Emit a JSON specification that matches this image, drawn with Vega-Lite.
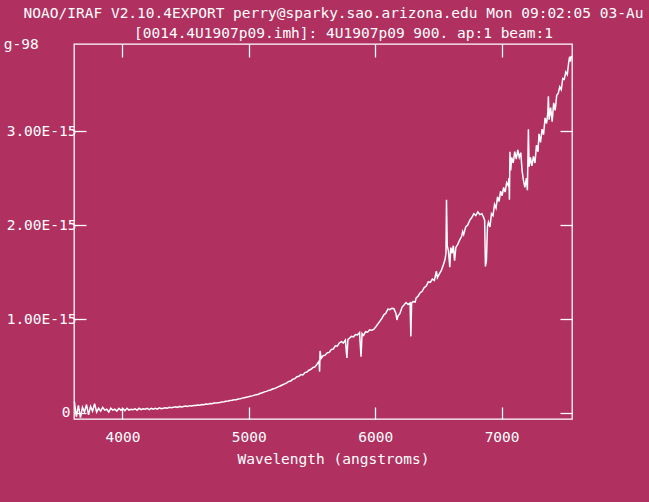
{
  "$schema": "https://vega.github.io/schema/vega-lite/v6.json",
  "width": 498,
  "height": 375,
  "autosize": {"type": "none"},
  "padding": {"left": 74, "top": 44, "right": 77, "bottom": 83},
  "background": "#B03060",
  "title": {
    "text": "NOAO/IRAF V2.10.4EXPORT perry@sparky.sao.arizona.edu Mon 09:02:05 03-Au",
    "anchor": "start",
    "frame": "group",
    "dx": -50.4,
    "font": "DejaVu Sans Mono",
    "fontSize": 14.5,
    "fontWeight": "normal",
    "color": "white"
  },
  "config": {
    "view": {"stroke": "white", "strokeWidth": 1.3},
    "axis": {
      "domain": false,
      "grid": false,
      "tickColor": "white",
      "tickWidth": 1.3,
      "labelColor": "white",
      "labelFont": "DejaVu Sans Mono",
      "labelFontSize": 14.5,
      "titleColor": "white",
      "titleFont": "DejaVu Sans Mono",
      "titleFontSize": 14.5,
      "titleFontWeight": "normal"
    }
  },
  "data": {
    "values": [
      {"wavelength": 3620, "flux": 0.12}, {"wavelength": 3636, "flux": -0.04}, {"wavelength": 3652, "flux": 0.08}, {"wavelength": 3668, "flux": -0.05}, {"wavelength": 3684, "flux": 0.06},
      {"wavelength": 3700, "flux": 0.01}, {"wavelength": 3716, "flux": 0.09}, {"wavelength": 3732, "flux": -0.02}, {"wavelength": 3748, "flux": 0.07}, {"wavelength": 3764, "flux": 0.02},
      {"wavelength": 3780, "flux": 0.10}, {"wavelength": 3796, "flux": 0.01}, {"wavelength": 3812, "flux": 0.05}, {"wavelength": 3828, "flux": 0.02}, {"wavelength": 3844, "flux": 0.06},
      {"wavelength": 3860, "flux": 0.03}, {"wavelength": 3876, "flux": 0.04}, {"wavelength": 3892, "flux": 0.01}, {"wavelength": 3908, "flux": 0.05}, {"wavelength": 3924, "flux": 0.03},
      {"wavelength": 3940, "flux": 0.04}, {"wavelength": 3956, "flux": 0.02}, {"wavelength": 3972, "flux": 0.05}, {"wavelength": 3988, "flux": 0.03}, {"wavelength": 4004, "flux": 0.045},
      {"wavelength": 4020, "flux": 0.025}, {"wavelength": 4036, "flux": 0.05}, {"wavelength": 4052, "flux": 0.03}, {"wavelength": 4068, "flux": 0.04}, {"wavelength": 4084, "flux": 0.035},
      {"wavelength": 4100, "flux": 0.045}, {"wavelength": 4116, "flux": 0.03}, {"wavelength": 4132, "flux": 0.05}, {"wavelength": 4148, "flux": 0.035}, {"wavelength": 4164, "flux": 0.045},
      {"wavelength": 4180, "flux": 0.04}, {"wavelength": 4196, "flux": 0.05}, {"wavelength": 4212, "flux": 0.035}, {"wavelength": 4228, "flux": 0.05}, {"wavelength": 4244, "flux": 0.04},
      {"wavelength": 4260, "flux": 0.05}, {"wavelength": 4276, "flux": 0.04}, {"wavelength": 4292, "flux": 0.055}, {"wavelength": 4308, "flux": 0.045}, {"wavelength": 4324, "flux": 0.05},
      {"wavelength": 4340, "flux": 0.055}, {"wavelength": 4356, "flux": 0.05}, {"wavelength": 4372, "flux": 0.06}, {"wavelength": 4388, "flux": 0.055}, {"wavelength": 4404, "flux": 0.06},
      {"wavelength": 4420, "flux": 0.065}, {"wavelength": 4436, "flux": 0.06}, {"wavelength": 4452, "flux": 0.07}, {"wavelength": 4468, "flux": 0.065}, {"wavelength": 4484, "flux": 0.07},
      {"wavelength": 4500, "flux": 0.075}, {"wavelength": 4516, "flux": 0.07}, {"wavelength": 4532, "flux": 0.078}, {"wavelength": 4548, "flux": 0.075}, {"wavelength": 4564, "flux": 0.08},
      {"wavelength": 4580, "flux": 0.08}, {"wavelength": 4596, "flux": 0.085}, {"wavelength": 4612, "flux": 0.082}, {"wavelength": 4628, "flux": 0.09}, {"wavelength": 4644, "flux": 0.088},
      {"wavelength": 4660, "flux": 0.095}, {"wavelength": 4676, "flux": 0.092}, {"wavelength": 4692, "flux": 0.1}, {"wavelength": 4708, "flux": 0.098}, {"wavelength": 4724, "flux": 0.105},
      {"wavelength": 4740, "flux": 0.105}, {"wavelength": 4756, "flux": 0.11}, {"wavelength": 4772, "flux": 0.112}, {"wavelength": 4788, "flux": 0.118}, {"wavelength": 4804, "flux": 0.12},
      {"wavelength": 4820, "flux": 0.125}, {"wavelength": 4836, "flux": 0.128}, {"wavelength": 4852, "flux": 0.133}, {"wavelength": 4868, "flux": 0.135}, {"wavelength": 4884, "flux": 0.14},
      {"wavelength": 4900, "flux": 0.142}, {"wavelength": 4916, "flux": 0.148}, {"wavelength": 4932, "flux": 0.152}, {"wavelength": 4948, "flux": 0.158}, {"wavelength": 4964, "flux": 0.163},
      {"wavelength": 4980, "flux": 0.168}, {"wavelength": 4996, "flux": 0.172}, {"wavelength": 5012, "flux": 0.178}, {"wavelength": 5028, "flux": 0.182}, {"wavelength": 5044, "flux": 0.19},
      {"wavelength": 5060, "flux": 0.195}, {"wavelength": 5076, "flux": 0.2}, {"wavelength": 5092, "flux": 0.21}, {"wavelength": 5108, "flux": 0.215}, {"wavelength": 5124, "flux": 0.225},
      {"wavelength": 5140, "flux": 0.23}, {"wavelength": 5156, "flux": 0.24}, {"wavelength": 5172, "flux": 0.245}, {"wavelength": 5188, "flux": 0.255}, {"wavelength": 5204, "flux": 0.26},
      {"wavelength": 5220, "flux": 0.27}, {"wavelength": 5236, "flux": 0.28}, {"wavelength": 5252, "flux": 0.29}, {"wavelength": 5268, "flux": 0.30}, {"wavelength": 5284, "flux": 0.31},
      {"wavelength": 5300, "flux": 0.32}, {"wavelength": 5316, "flux": 0.335}, {"wavelength": 5332, "flux": 0.34}, {"wavelength": 5348, "flux": 0.36}, {"wavelength": 5364, "flux": 0.365},
      {"wavelength": 5380, "flux": 0.385}, {"wavelength": 5396, "flux": 0.39}, {"wavelength": 5412, "flux": 0.41}, {"wavelength": 5428, "flux": 0.405}, {"wavelength": 5444, "flux": 0.43},
      {"wavelength": 5460, "flux": 0.435}, {"wavelength": 5476, "flux": 0.455}, {"wavelength": 5492, "flux": 0.465}, {"wavelength": 5508, "flux": 0.485}, {"wavelength": 5524, "flux": 0.49},
      {"wavelength": 5540, "flux": 0.52}, {"wavelength": 5556, "flux": 0.55}, {"wavelength": 5560, "flux": 0.44}, {"wavelength": 5564, "flux": 0.66}, {"wavelength": 5572, "flux": 0.58},
      {"wavelength": 5588, "flux": 0.61}, {"wavelength": 5604, "flux": 0.615}, {"wavelength": 5620, "flux": 0.64}, {"wavelength": 5636, "flux": 0.645}, {"wavelength": 5652, "flux": 0.675},
      {"wavelength": 5668, "flux": 0.68}, {"wavelength": 5684, "flux": 0.715}, {"wavelength": 5700, "flux": 0.71}, {"wavelength": 5716, "flux": 0.745}, {"wavelength": 5732, "flux": 0.76},
      {"wavelength": 5748, "flux": 0.745}, {"wavelength": 5764, "flux": 0.775}, {"wavelength": 5776, "flux": 0.585}, {"wavelength": 5784, "flux": 0.78}, {"wavelength": 5796, "flux": 0.795},
      {"wavelength": 5812, "flux": 0.815}, {"wavelength": 5828, "flux": 0.81}, {"wavelength": 5844, "flux": 0.835}, {"wavelength": 5860, "flux": 0.83}, {"wavelength": 5876, "flux": 0.855},
      {"wavelength": 5888, "flux": 0.60}, {"wavelength": 5896, "flux": 0.845}, {"wavelength": 5908, "flux": 0.825}, {"wavelength": 5924, "flux": 0.865}, {"wavelength": 5940, "flux": 0.86},
      {"wavelength": 5956, "flux": 0.885}, {"wavelength": 5972, "flux": 0.88}, {"wavelength": 5988, "flux": 0.89}, {"wavelength": 6004, "flux": 0.915}, {"wavelength": 6020, "flux": 0.945},
      {"wavelength": 6036, "flux": 0.975}, {"wavelength": 6052, "flux": 1.005}, {"wavelength": 6068, "flux": 1.045}, {"wavelength": 6084, "flux": 1.06}, {"wavelength": 6100, "flux": 1.105},
      {"wavelength": 6116, "flux": 1.10}, {"wavelength": 6132, "flux": 1.115}, {"wavelength": 6148, "flux": 1.11}, {"wavelength": 6164, "flux": 1.06}, {"wavelength": 6172, "flux": 0.99},
      {"wavelength": 6180, "flux": 1.03}, {"wavelength": 6196, "flux": 1.06}, {"wavelength": 6212, "flux": 1.125}, {"wavelength": 6228, "flux": 1.15}, {"wavelength": 6244, "flux": 1.175},
      {"wavelength": 6260, "flux": 1.155}, {"wavelength": 6276, "flux": 1.17}, {"wavelength": 6282, "flux": 0.815}, {"wavelength": 6288, "flux": 1.17}, {"wavelength": 6300, "flux": 1.185},
      {"wavelength": 6316, "flux": 1.18}, {"wavelength": 6324, "flux": 1.225}, {"wavelength": 6340, "flux": 1.245}, {"wavelength": 6356, "flux": 1.28}, {"wavelength": 6372, "flux": 1.295},
      {"wavelength": 6388, "flux": 1.335}, {"wavelength": 6404, "flux": 1.35}, {"wavelength": 6420, "flux": 1.395}, {"wavelength": 6436, "flux": 1.39}, {"wavelength": 6452, "flux": 1.425},
      {"wavelength": 6468, "flux": 1.41}, {"wavelength": 6484, "flux": 1.51}, {"wavelength": 6492, "flux": 1.44}, {"wavelength": 6508, "flux": 1.48}, {"wavelength": 6524, "flux": 1.52},
      {"wavelength": 6540, "flux": 1.58}, {"wavelength": 6552, "flux": 1.63}, {"wavelength": 6560, "flux": 1.70}, {"wavelength": 6564, "flux": 2.27}, {"wavelength": 6570, "flux": 1.78},
      {"wavelength": 6580, "flux": 1.72}, {"wavelength": 6590, "flux": 1.55}, {"wavelength": 6598, "flux": 1.76}, {"wavelength": 6608, "flux": 1.70}, {"wavelength": 6618, "flux": 1.78},
      {"wavelength": 6628, "flux": 1.62}, {"wavelength": 6638, "flux": 1.76}, {"wavelength": 6652, "flux": 1.79}, {"wavelength": 6668, "flux": 1.84}, {"wavelength": 6684, "flux": 1.88},
      {"wavelength": 6692, "flux": 1.93}, {"wavelength": 6700, "flux": 1.90}, {"wavelength": 6716, "flux": 1.98}, {"wavelength": 6732, "flux": 2.00}, {"wavelength": 6748, "flux": 2.05},
      {"wavelength": 6764, "flux": 2.08}, {"wavelength": 6780, "flux": 2.12}, {"wavelength": 6796, "flux": 2.10}, {"wavelength": 6812, "flux": 2.14}, {"wavelength": 6828, "flux": 2.11},
      {"wavelength": 6844, "flux": 2.12}, {"wavelength": 6858, "flux": 2.08}, {"wavelength": 6866, "flux": 2.05}, {"wavelength": 6872, "flux": 1.56}, {"wavelength": 6880, "flux": 1.62},
      {"wavelength": 6888, "flux": 1.98}, {"wavelength": 6896, "flux": 2.03}, {"wavelength": 6908, "flux": 1.98}, {"wavelength": 6920, "flux": 2.12}, {"wavelength": 6932, "flux": 2.10},
      {"wavelength": 6944, "flux": 2.22}, {"wavelength": 6956, "flux": 2.18}, {"wavelength": 6968, "flux": 2.30}, {"wavelength": 6980, "flux": 2.25}, {"wavelength": 6992, "flux": 2.36},
      {"wavelength": 7004, "flux": 2.31}, {"wavelength": 7016, "flux": 2.40}, {"wavelength": 7028, "flux": 2.35}, {"wavelength": 7040, "flux": 2.45}, {"wavelength": 7052, "flux": 2.42},
      {"wavelength": 7058, "flux": 2.50}, {"wavelength": 7062, "flux": 2.27}, {"wavelength": 7066, "flux": 2.78}, {"wavelength": 7072, "flux": 2.58}, {"wavelength": 7080, "flux": 2.72},
      {"wavelength": 7092, "flux": 2.66}, {"wavelength": 7104, "flux": 2.78}, {"wavelength": 7116, "flux": 2.70}, {"wavelength": 7128, "flux": 2.80}, {"wavelength": 7140, "flux": 2.72},
      {"wavelength": 7152, "flux": 2.77}, {"wavelength": 7162, "flux": 2.58}, {"wavelength": 7172, "flux": 2.48}, {"wavelength": 7184, "flux": 2.40}, {"wavelength": 7196, "flux": 2.50},
      {"wavelength": 7204, "flux": 2.37}, {"wavelength": 7212, "flux": 3.02}, {"wavelength": 7218, "flux": 2.62}, {"wavelength": 7228, "flux": 2.72}, {"wavelength": 7240, "flux": 2.63},
      {"wavelength": 7252, "flux": 2.73}, {"wavelength": 7264, "flux": 2.66}, {"wavelength": 7276, "flux": 2.85}, {"wavelength": 7288, "flux": 2.78}, {"wavelength": 7296, "flux": 2.97},
      {"wavelength": 7308, "flux": 2.88}, {"wavelength": 7320, "flux": 3.02}, {"wavelength": 7332, "flux": 2.96}, {"wavelength": 7344, "flux": 3.14}, {"wavelength": 7356, "flux": 3.08},
      {"wavelength": 7366, "flux": 3.20}, {"wavelength": 7370, "flux": 3.37}, {"wavelength": 7376, "flux": 3.12}, {"wavelength": 7388, "flux": 3.25}, {"wavelength": 7400, "flux": 3.10},
      {"wavelength": 7412, "flux": 3.30}, {"wavelength": 7424, "flux": 3.22}, {"wavelength": 7436, "flux": 3.38}, {"wavelength": 7448, "flux": 3.40}, {"wavelength": 7460, "flux": 3.47},
      {"wavelength": 7472, "flux": 3.44}, {"wavelength": 7484, "flux": 3.56}, {"wavelength": 7496, "flux": 3.55}, {"wavelength": 7508, "flux": 3.63}, {"wavelength": 7520, "flux": 3.60},
      {"wavelength": 7530, "flux": 3.72}, {"wavelength": 7538, "flux": 3.79}, {"wavelength": 7546, "flux": 3.74}, {"wavelength": 7552, "flux": 3.80}
    ]
  },
  "layer": [
    {
      "mark": {"type": "line", "color": "white", "strokeWidth": 1.5},
      "encoding": {
        "x": {
          "field": "wavelength",
          "type": "quantitative",
          "scale": {"domain": [3617, 7557], "nice": false, "zero": false},
          "axis": {
            "orient": "bottom",
            "values": [4000, 5000, 6000, 7000],
            "format": "d",
            "tickSize": -12,
            "labelPadding": 34,
            "labelBaseline": "alphabetic",
            "labelFlush": false,
            "title": "Wavelength (angstroms)",
            "titleX": 259,
            "titleY": 44,
            "titleAlign": "center",
            "titleBaseline": "alphabetic"
          }
        },
        "y": {
          "field": "flux",
          "type": "quantitative",
          "scale": {"domain": [-0.064, 3.926], "nice": false, "zero": false},
          "axis": {
            "orient": "left",
            "values": [0, 1, 2, 3],
            "labelExpr": "datum.value == 0 ? '0' : format(datum.value, '.2f') + 'E-15'",
            "tickSize": -12,
            "labelPadding": {"condition": {"test": "datum.value == 0", "value": 16}, "value": 10},
            "labelFlush": false,
            "title": "g-98",
            "titleAngle": 0,
            "titleAlign": "left",
            "titleBaseline": "alphabetic",
            "titleX": -70.7,
            "titleY": 4.7
          }
        }
      }
    },
    {
      "mark": {"type": "line", "color": "white", "strokeOpacity": 0},
      "encoding": {
        "x": {
          "field": "wavelength",
          "type": "quantitative",
          "axis": {
            "orient": "top",
            "values": [4000, 5000, 6000, 7000],
            "labels": false,
            "tickSize": -13,
            "title": "[0014.4U1907p09.imh]: 4U1907p09 900. ap:1 beam:1",
            "titleX": 269,
            "titleY": -7,
            "titleAlign": "center",
            "titleBaseline": "alphabetic"
          }
        },
        "y": {
          "field": "flux",
          "type": "quantitative",
          "axis": {
            "orient": "right",
            "values": [0, 1, 2, 3],
            "labels": false,
            "tickSize": -12,
            "title": null
          }
        }
      }
    }
  ],
  "resolve": {"axis": {"x": "independent", "y": "independent"}}
}
